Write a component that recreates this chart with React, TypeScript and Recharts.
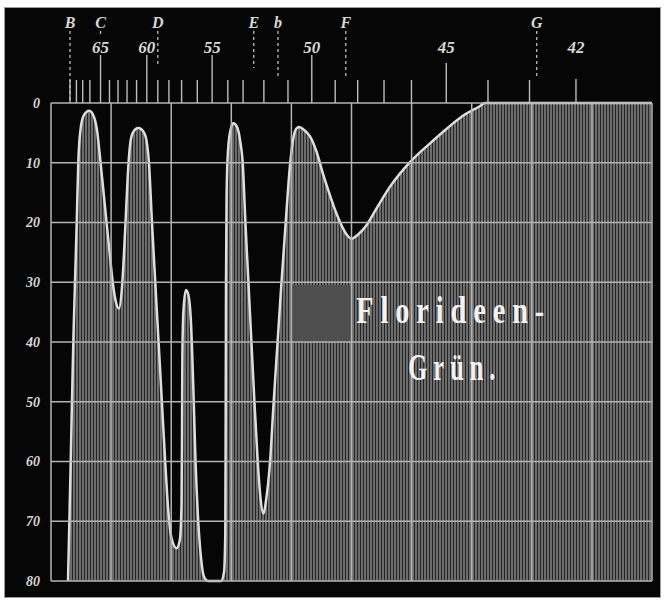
import React from 'react';
import { AreaChart, Area, XAxis, YAxis, ReferenceLine, ReferenceArea, ReferenceDot } from 'recharts';

// Lage auf der Skala (0..100 = 10 Felder), Absorption (0 oben, 80 unten)
const curveX = [
  2.83, 3.28, 3.71, 3.99, 4.28, 4.54, 4.94, 5.49, 6.37, 7.1, 7.65, 8.1, 8.6, 9.2, 9.75, 10.27,
  10.8, 11.31, 11.8, 12.35, 12.78, 13.1, 13.6, 14.53, 15.5, 16.0, 16.3, 16.8, 17.35, 17.9, 18.45,
  19.0, 19.5, 20.05, 20.9, 21.45, 21.72, 21.8, 21.86, 22.05, 22.46, 22.9, 23.25, 23.5, 23.75, 24.05,
  24.5, 24.95, 25.45, 26.12, 28.29, 28.79, 29.0, 29.07, 29.12, 29.22, 29.45, 29.87, 30.33, 30.95,
  31.5, 31.9, 32.35, 32.85, 33.35, 33.85, 34.4, 34.85, 35.32, 35.85, 36.45, 37.05, 37.7, 38.35,
  39.05, 39.8, 40.3, 40.8, 41.3, 42.1, 43.1, 44.2, 45.3, 46.4, 47.5, 48.6, 49.4, 50.03, 51.1,
  52.53, 54.19, 56.41, 59.73, 63.06, 65.84, 68.6, 71.4, 72.2, 100,
];
const curveY = [
  80, 60, 40, 30, 20, 10, 4.2, 2, 1.3, 2.2, 4.5, 8.5, 13.5, 19.5, 25, 30,
  33.3, 34.4, 31, 21, 12, 7.5, 5, 4.2, 5, 7, 10, 20, 30, 40, 50,
  60, 68, 72.8, 74.5, 73, 67, 55, 42, 34.5, 31.3, 32.3, 36, 42, 50, 60,
  70, 76, 79.3, 80, 80, 78.5, 72, 50, 30, 15, 8, 4.5, 3.4, 4,
  6.5, 10, 20, 30, 40, 50, 60, 66, 68.7, 66, 60, 50, 40, 30,
  20, 10, 6, 4.3, 4, 4.5, 5.6, 8.2, 12, 15.4, 18.5, 21, 22.3, 22.7, 22.0,
  20.4, 17.6, 14.0, 9.9, 6.75, 4.3, 2.1, 0.5, 0, 0,
];

// Wellenlängen-Skala oben
const scaleTicks = [
  3.16, 4.23, 5.27, 6.47, 8.24, 9.73, 11.15, 12.65, 14.24, 15.94, 17.77, 19.62, 21.73, 24.34,
  26.81, 29.42, 31.96, 35.42, 39.43, 43.39, 47.29, 51.03, 55.41, 59.98, 65.77, 72.71, 79.62, 87.35,
];
const scaleLabels = [
  '', '', '', '', '65', '', '', '', '', '60', '', '', '', '',
  '55', '', '', '', '', '50', '', '', '', '', '45', '', '', '42',
];

// Fraunhofersche Linien
const fraunhoferX = [3.16, 8.24, 17.77, 33.73, 37.77, 49.05, 80.82];
const fraunhoferLabels = ['B', 'C', 'D', 'E', 'b', 'F', 'G'];

const yTicks = [0, 10, 20, 30, 40, 50, 60, 70, 80];
const gridX = [0, 10, 20, 30, 40, 50, 60, 70, 80, 90, 100];

const titleLines = ['Florideen-', 'Grün.'];
const titleX = [67, 67.2];
const titleY = [36.9, 46.4];

const data = curveX.map((x, i) => ({ x, v: curveY[i] }));

const serif = 'Liberation Serif, DejaVu Serif, serif';
const labelLen: Record<string, number> = { '45': 40, '42': 24 };
const dashEnd: Record<string, number> = { B: 0, C: 67, D: 39, E: 35, b: 25, F: 25, G: 25 };

const TopTick = (props: any) => {
  const { x, y, index } = props;
  if (index < scaleTicks.length) {
    const label = scaleLabels[index];
    const len = label ? labelLen[label] ?? 48 : 23;
    return (
      <g>
        <line x1={x} x2={x} y1={y - len} y2={y} stroke="#bdbdbd" strokeWidth={1.4} />
        {label && (
          <text x={x} y={y - 50} textAnchor="middle" fill="#d8d8d8" fontSize={17}
            fontFamily={serif} fontWeight="bold" fontStyle="italic">{label}</text>
        )}
      </g>
    );
  }
  const letter = fraunhoferLabels[index - scaleTicks.length];
  return (
    <g>
      <line x1={x} x2={x} y1={y - 72} y2={y - dashEnd[letter]} stroke="#bdbdbd"
        strokeWidth={1.3} strokeDasharray="3 3" />
      <text x={x} y={y - 75} textAnchor="middle" fill="#d8d8d8" fontSize={16}
        fontFamily={serif} fontWeight="bold" fontStyle="italic">{letter}</text>
    </g>
  );
};

export default function App() {
  return (
    <div style={{ position: 'absolute', left: 0, top: 0, width: 665, height: 603, background: '#fff' }}>
      <div style={{
        position: 'absolute', left: 4, top: 7, width: 657, height: 591,
        background: '#060606', border: '1px solid #9a9a9a', boxSizing: 'border-box',
      }} />
      <div style={{ position: 'absolute', left: 0, top: 0 }}>
        <AreaChart width={665} height={603} data={data} margin={{ top: 0, right: 13, bottom: 22, left: 0 }}>
          <defs>
            <pattern id="hatch" width="3" height="4" patternUnits="userSpaceOnUse">
              <rect width="3" height="4" fill="#6c6c6c" />
              <rect width="1" height="4" fill="#262626" />
            </pattern>
          </defs>
          <XAxis
            dataKey="x" type="number" domain={[0, 100]} allowDataOverflow orientation="top" height={103}
            ticks={[...scaleTicks, ...fraunhoferX]} interval={0} tick={<TopTick />}
            tickSize={0} tickMargin={0} tickLine={false} axisLine={false}
          />
          <YAxis
            type="number" domain={[0, 80]} reversed ticks={yTicks} interval={0} width={51}
            tickSize={0} tickMargin={11} tickLine={false} axisLine={false}
            tick={{ fill: '#d8d8d8', fontSize: 14, fontFamily: serif, fontWeight: 'bold', fontStyle: 'italic' }}
          />
          <Area
            type="monotone" dataKey="v" baseValue={80} stroke="#dedede" strokeWidth={2.5}
            fill="url(#hatch)" fillOpacity={1} isAnimationActive={false}
          />
          <ReferenceArea x1={40} x2={50} y1={30.5} y2={40} fill="#4e4e4e" fillOpacity={1} stroke="none" />
          {gridX.map((g) => (
            <ReferenceLine key={'gx' + g} x={g} stroke="#b4b4b4" strokeWidth={1.5} />
          ))}
          {yTicks.map((g) => (
            <ReferenceLine key={'gy' + g} y={g} stroke="#b4b4b4" strokeWidth={1.5} />
          ))}
          {titleLines.map((t, i) => (
            <ReferenceDot
              key={t} x={titleX[i]} y={titleY[i]} r={0}
              shape={(p: any) => (
                <text x={p.cx} y={p.cy} textAnchor="middle" fill="#f2f2f2" fontSize={37}
                  fontFamily={serif} fontWeight="bold" letterSpacing={9}
                  textLength={i === 0 ? 195 : 93} lengthAdjust="spacingAndGlyphs">{t}</text>
              )}
            />
          ))}
        </AreaChart>
      </div>
    </div>
  );
}
